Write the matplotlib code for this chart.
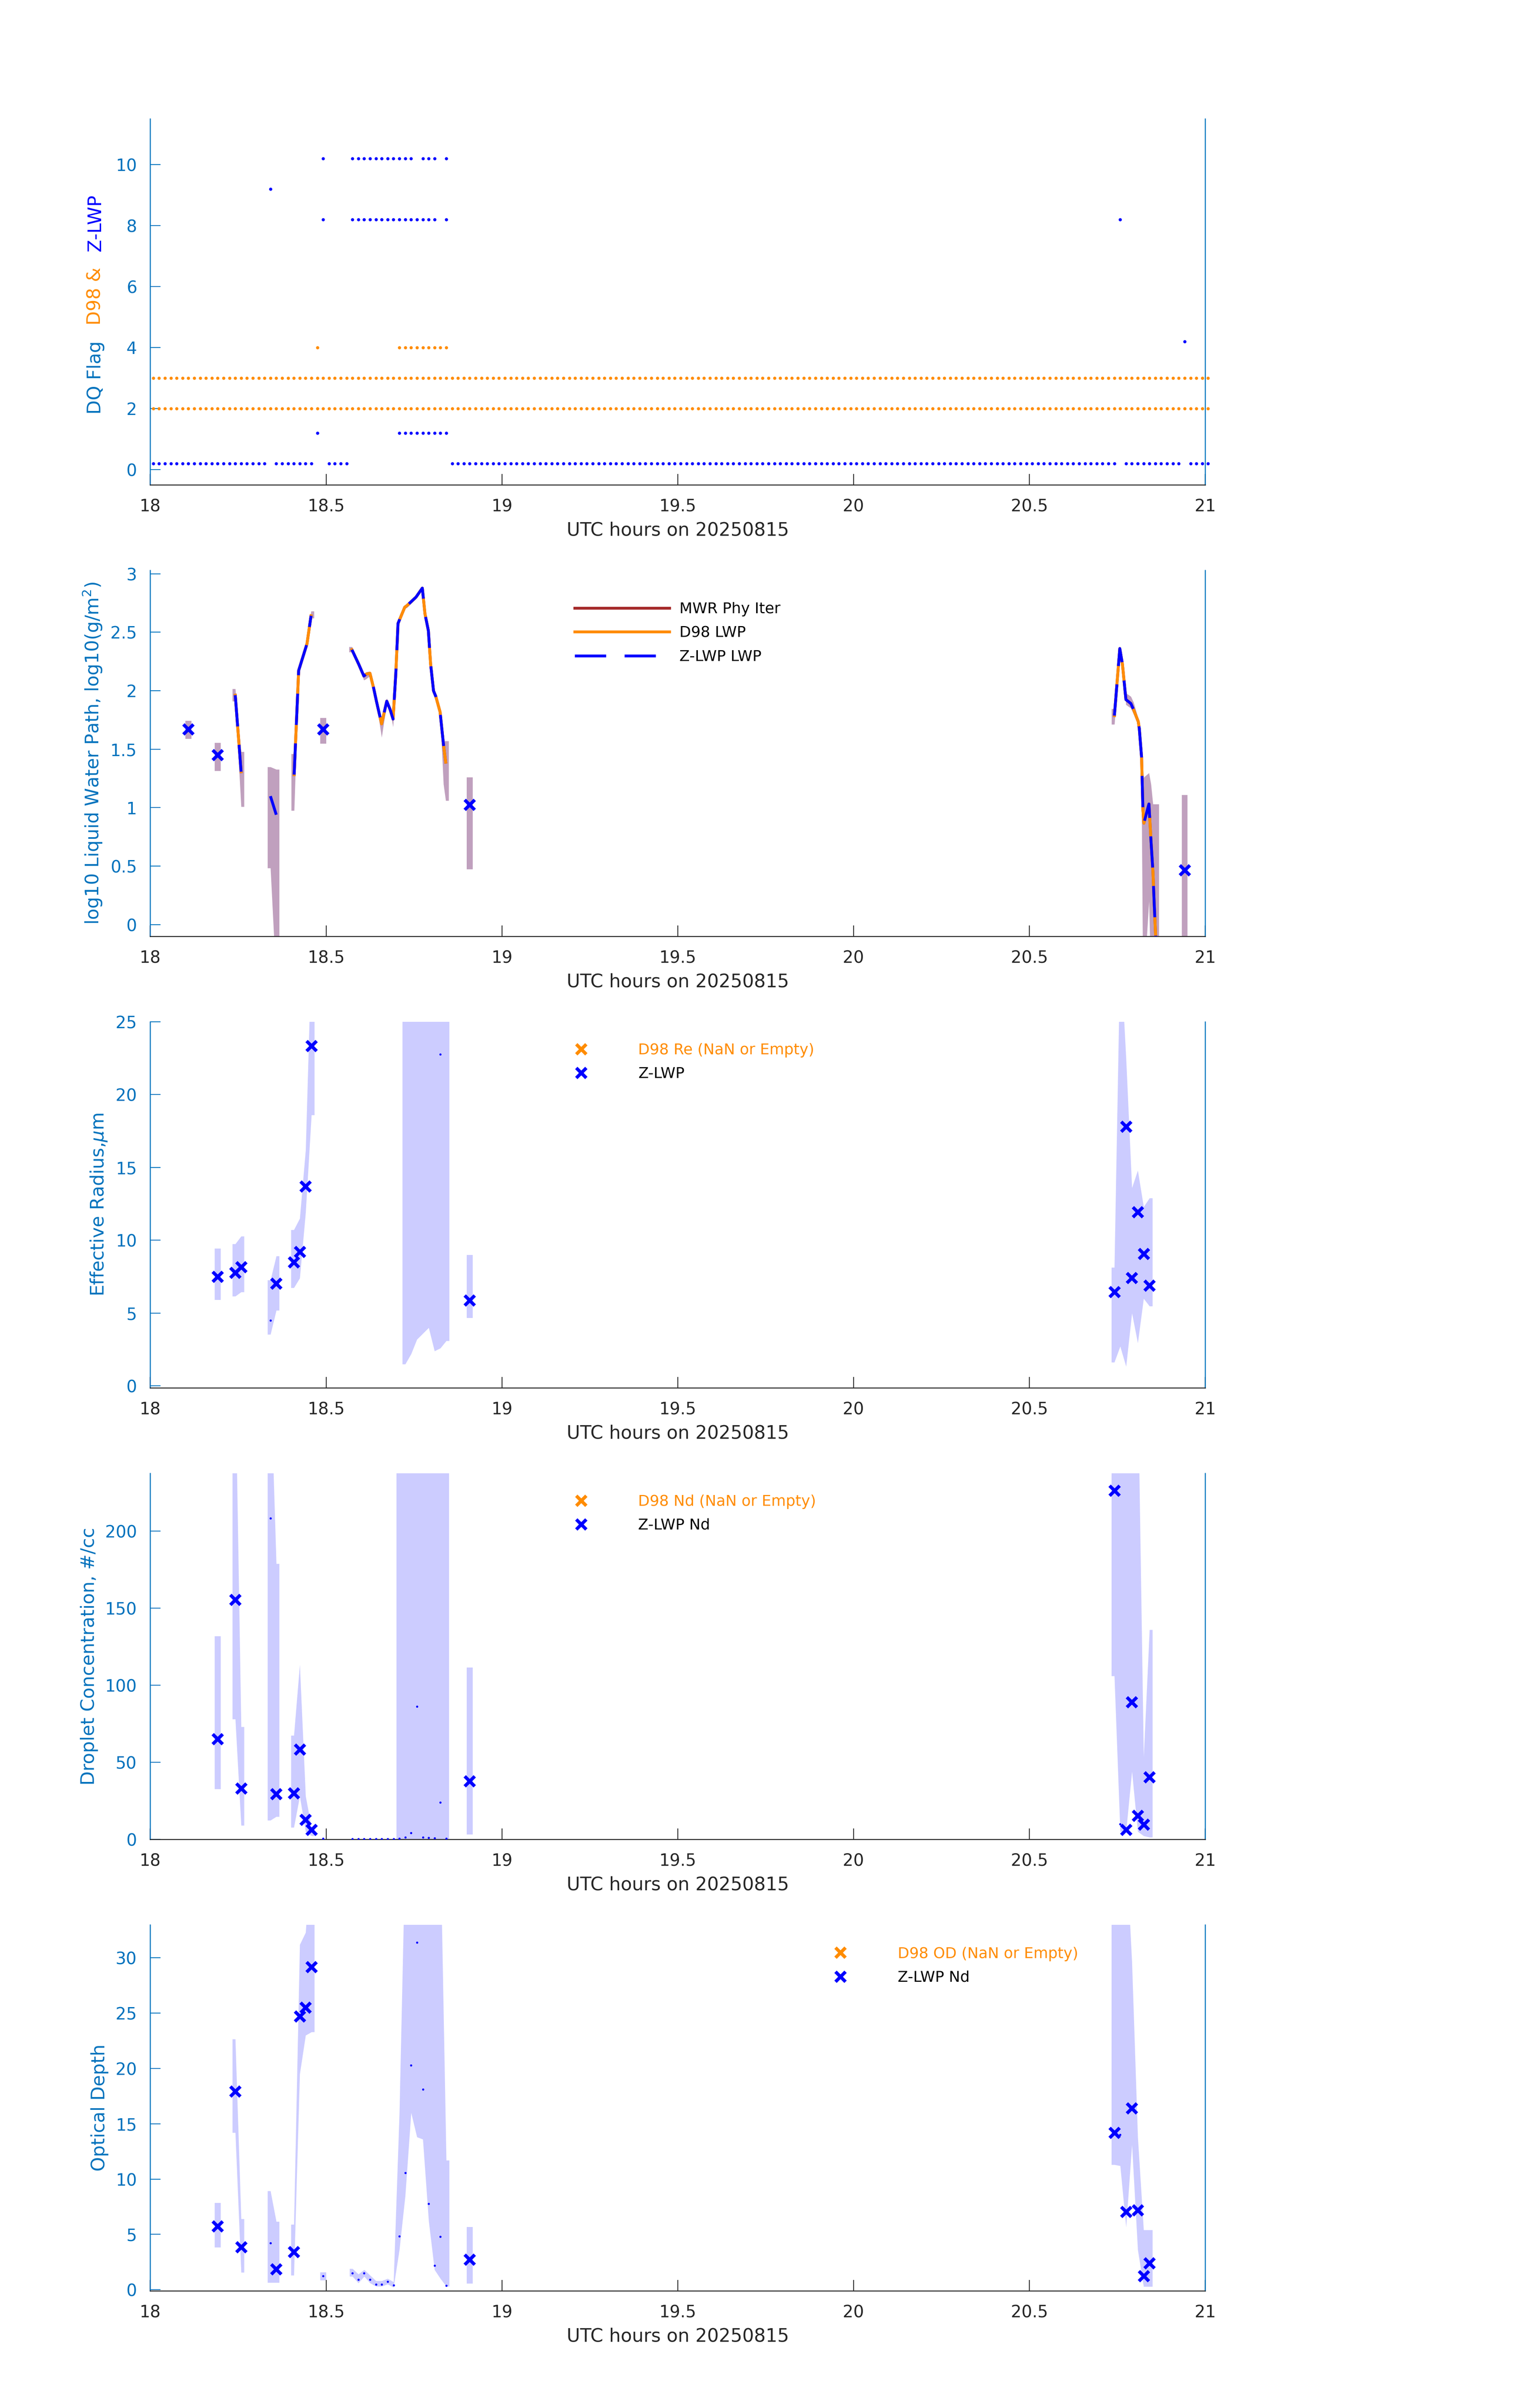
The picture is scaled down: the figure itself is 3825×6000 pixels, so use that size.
import numpy as np
import matplotlib
matplotlib.use('Agg')
import matplotlib.pyplot as plt
from matplotlib.ticker import FormatStrFormatter

nan = np.nan

AXBLUE = '#0072BD'
DARK = '#262626'
ORANGE = '#FF8C00'
BROWN = '#A52A2A'
LWP_BAND = '#C0A0BE'

# ---------------- panel 1 : DQ flags, one sample per minute after 18 UTC
zlwp_flag0 = (list(range(0, 20)) + list(range(21, 28)) + list(range(30, 34))
              + list(range(51, 165)) + list(range(166, 176)) + list(range(177, 181)))
zlwp_flag1 = [28] + list(range(42, 51))
zlwp_flag4 = [176]
zlwp_flag8 = [29] + list(range(34, 49)) + [50, 165]
zlwp_flag9 = [20]
zlwp_flag10 = [29] + list(range(34, 45)) + [46, 47, 48, 50]
d98_flag2 = list(range(0, 181))
d98_flag3 = list(range(0, 181))
d98_flag4 = [28] + list(range(42, 51))

# ---------------- panel 2 : log10 LWP
lwp_t = [18.2417, 18.2583, nan,
         18.4092, 18.4220, 18.4393, 18.4457, 18.4572, nan,
         18.5735, 18.5927, 18.6074, 18.6138, 18.6247, 18.6355, 18.6439, 18.6579,
         18.6726, 18.6822, 18.6905, 18.6982, 18.7046, 18.7238, 18.7302, 18.7558,
         18.7737, 18.7813, 18.7909, 18.7973, 18.8056, 18.8120, 18.8242, 18.8338,
         18.8402, nan,
         20.7420, 20.7573, 20.7648, 20.7747, 20.7888, 20.7964, 20.8098, 20.8128,
         20.8193, 20.8231, 20.8258, 20.8402, 20.8459, 20.8516, 20.8554, 20.8600]
lwp_mwr = [1.961, 1.307, nan,
           1.282, 2.172, 2.339, 2.401, 2.640, nan,
           2.350, 2.227, 2.125, 2.141, 2.149, 2.018, 1.900, 1.716,
           1.910, 1.838, 1.757, 2.141, 2.575, 2.714, 2.728, 2.800,
           2.877, 2.656, 2.513, 2.227, 1.998, 1.951, 1.818, 1.542,
           1.389, nan,
           1.787, 2.360, 2.227, 1.924, 1.890, 1.838, 1.736, 1.675,
           1.430, 0.980, 0.867, 1.031, 0.724, 0.448, 0.162, -0.145]
lwp_d98 = list(lwp_mwr)  # D98 sits on top of the MWR curve
lwp_zlwp_t = lwp_t + [nan, 18.3417, 18.3583]
lwp_zlwp = lwp_mwr + [nan, 1.098, 0.939]
zlwp_pt_t = [18.1083, 18.1917, 18.4917, 18.9083, 20.9417]
zlwp_pt_v = [1.669, 1.450, 1.669, 1.025, 0.464]

lwp_band_t = [18.1083, nan, 18.1917, nan, 18.2417, 18.2583, nan, 18.3417, 18.3583, nan,
              18.4092, 18.4220, 18.4393, 18.4457, 18.4572, nan, 18.4917, nan,
              18.5735, 18.5927, 18.6074, 18.6138, 18.6247, 18.6355, 18.6439, 18.6579,
              18.6726, 18.6822, 18.6905, 18.6982, 18.7046, 18.7238, 18.7302, 18.7558,
              18.7737, 18.7813, 18.7909, 18.7973, 18.8056, 18.8120, 18.8242, 18.8338,
              18.8402, nan, 18.9083, nan,
              20.7420, 20.7573, 20.7648, 20.7747, 20.7888, 20.7964, 20.8098, 20.8128,
              20.8193, 20.8231, 20.8258, 20.8402, 20.8459, 20.8516, 20.8554, 20.8600,
              nan, 20.9417]
lwp_band_hi = [1.744, nan, 1.552, nan, 2.016, 1.478, nan, 1.348, 1.327, nan,
               1.460, 2.190, 2.355, 2.420, 2.680, nan, 1.765, nan,
               2.375, 2.245, 2.140, 2.160, 2.165, 2.035, 1.915, 1.735,
               1.935, 1.855, 1.775, 2.155, 2.590, 2.730, 2.745, 2.815,
               2.895, 2.670, 2.530, 2.245, 2.015, 1.965, 1.835, 1.570,
               1.570, nan, 1.260, nan,
               1.845, 2.380, 2.250, 1.980, 1.950, 1.900, 1.760, 1.700,
               1.460, 1.245, 1.260, 1.297, 1.200, 1.030, 1.030, 1.030,
               nan, 1.108]
lwp_band_lo = [1.589, nan, 1.315, nan, 1.910, 1.008, nan, 0.483, -0.500, nan,
               0.975, 2.155, 2.320, 2.385, 2.620, nan, 1.548, nan,
               2.330, 2.205, 2.090, 2.100, 2.125, 2.000, 1.880, 1.600,
               1.890, 1.815, 1.690, 2.125, 2.560, 2.700, 2.710, 2.785,
               2.860, 2.640, 2.495, 2.210, 1.980, 1.935, 1.800, 1.200,
               1.060, nan, 0.474, nan,
               1.712, 2.340, 2.200, 1.880, 1.850, 1.800, 1.700, 1.640,
               1.000, -0.500, -0.500, 0.200, -0.500, -0.500, -0.500, -0.500,
               nan, -0.300]

# ---------------- panels 3-5 : Z-LWP retrievals (D98 ones are empty)
ret_t = [18.1917, 18.2417, 18.2583, 18.3583, 18.4083, 18.4250, 18.4417, 18.4583,
         18.9083, 20.7417, 20.7750, 20.7917, 20.8083, 20.8250, 20.8417]
d98_t = []
d98_v = []

re_v = [7.50, 7.77, 8.16, 7.03, 8.49, 9.21, 13.70, 23.35, 5.87, 6.45, 17.80, 7.42, 11.93, 9.07, 6.90]
re_dot_t = [18.3417, 18.8250]
re_dot_v = [4.5, 22.75]
re_band_t = [18.1917, nan, 18.2417, 18.2583, nan, 18.3417, 18.3583, nan,
             18.4083, 18.4250, 18.4417, 18.4583, nan,
             18.7250, 18.7417, 18.7583, 18.7750, 18.7917, 18.8083, 18.8250, 18.8417, nan,
             18.9083, nan,
             20.7417, 20.7583, 20.7750, 20.7917, 20.8083, 20.8250, 20.8417]
re_band_hi = [9.44, nan, 9.75, 10.28, nan, 7.27, 8.92, nan,
              10.72, 11.50, 16.20, 30.0, nan,
              30.0, 30.0, 30.0, 30.0, 30.0, 30.0, 30.0, 30.0, nan,
              9.00, nan,
              8.14, 30.0, 22.5, 13.6, 14.8, 12.3, 12.9]
re_band_lo = [5.90, nan, 6.16, 6.45, nan, 3.54, 5.19, nan,
              6.74, 7.40, 11.90, 18.60, nan,
              1.5, 2.2, 3.2, 3.6, 4.0, 2.4, 2.6, 3.1, nan,
              4.66, nan,
              1.63, 2.72, 1.34, 5.00, 2.95, 6.00, 5.48]

nd_v = [65.0, 155.6, 33.1, 29.4, 29.8, 58.2, 12.7, 6.2, 37.6, 226.3, 6.2, 89.0, 15.4, 9.5, 40.2]
nd_dot_t = [18.3417, 18.4917, 18.5750, 18.5917, 18.6083, 18.6250, 18.6417, 18.6583,
            18.6750, 18.6917, 18.7083, 18.7250, 18.7417, 18.7583, 18.7750, 18.7917,
            18.8083, 18.8250, 18.8417, 20.7583]
nd_dot_v = [208.3, 0.4, 0.3, 0.3, 0.3, 0.3, 0.3, 0.3,
            0.3, 0.3, 0.5, 1.3, 4.0, 86.3, 1.3, 0.9,
            0.7, 24.0, 0.4, 9.9]
nd_band_t = [18.1917, nan, 18.2417, 18.2583, nan, 18.3417, 18.3583, nan,
             18.4083, 18.4250, 18.4417, 18.4583, nan,
             18.7083, 18.7250, 18.7417, 18.7583, 18.7750, 18.7917, 18.8083, 18.8250, 18.8417, nan,
             18.9083, nan,
             20.7417, 20.7583, 20.7750, 20.7917, 20.8083, 20.8250, 20.8417]
nd_band_hi = [131.7, nan, 300.0, 73.0, nan, 300.0, 178.9, nan,
              67.4, 113.3, 28.0, 7.7, nan,
              300.0, 300.0, 300.0, 300.0, 300.0, 300.0, 300.0, 300.0, 300.0, nan,
              111.5, nan,
              300.0, 300.0, 300.0, 300.0, 300.0, 53.6, 136.0]
nd_band_lo = [32.5, nan, 78.0, 9.0, nan, 12.3, 14.7, nan,
              7.7, 27.9, 5.0, 2.2, nan,
              0.0, 0.0, 0.0, 0.0, 0.0, 0.0, 0.0, 0.0, 0.0, nan,
              3.1, nan,
              106.0, 5.0, 5.0, 44.0, 5.0, 2.2, 1.3]

od_v = [5.73, 17.93, 3.86, 1.87, 3.40, 24.70, 25.50, 29.20, 2.71, 14.20, 7.06, 16.40, 7.19, 1.23, 2.38]
od_dot_t = [18.3417, 18.4917, 18.5750, 18.5917, 18.6083, 18.6250, 18.6417, 18.6583,
            18.6750, 18.6917, 18.7083, 18.7250, 18.7417, 18.7583, 18.7750, 18.7917,
            18.8083, 18.8250, 18.8417, 20.7583]
od_dot_v = [4.22, 1.23, 1.50, 0.92, 1.48, 0.92, 0.46, 0.46,
            0.74, 0.41, 4.83, 10.56, 20.30, 31.40, 18.13, 7.77,
            2.17, 4.81, 0.38, 14.00]
od_band_t = [18.1917, nan, 18.2417, 18.2583, nan, 18.3417, 18.3583, nan,
             18.4083, 18.4250, 18.4417, 18.4583, nan, 18.4917, nan,
             18.5750, 18.5917, 18.6083, 18.6250, 18.6417, 18.6583, 18.6750, 18.6917,
             18.7083, 18.7250, 18.7417, 18.7583, 18.7750, 18.7917, 18.8083, 18.8250, 18.8417, nan,
             18.9083, nan,
             20.7417, 20.7583, 20.7750, 20.7917, 20.8083, 20.8250, 20.8417]
od_band_hi = [7.83, nan, 22.66, 6.40, nan, 8.93, 6.16, nan,
              5.90, 31.20, 32.30, 40.0, nan, 1.56, nan,
              1.90, 1.40, 1.80, 1.30, 0.80, 0.80, 1.00, 0.70,
              16.0, 40.0, 40.0, 40.0, 40.0, 40.0, 40.0, 40.0, 11.7, nan,
              5.65, nan,
              40.0, 40.0, 40.0, 29.6, 13.8, 5.4, 5.4]
od_band_lo = [3.81, nan, 14.20, 1.56, nan, 0.64, 0.64, nan,
              1.30, 19.50, 23.00, 23.30, nan, 0.84, nan,
              1.20, 0.60, 1.20, 0.60, 0.30, 0.30, 0.50, 0.20,
              3.6, 8.5, 16.0, 13.8, 13.6, 6.2, 1.8, 1.0, 0.3, nan,
              0.54, nan,
              11.3, 11.2, 5.65, 13.1, 3.6, 0.28, 0.28]


def minute_time(idx):
    return 18.0 + (np.asarray(idx) + 0.5) / 60.0


def fill_band(ax, t, lo, hi, **kw):
    # each contiguous run is widened by half a sample on both ends
    t = np.asarray(t, float)
    lo = np.asarray(lo, float)
    hi = np.asarray(hi, float)
    half = 0.5 / 60.0
    for chunk in np.split(np.arange(len(t)), np.where(np.isnan(t))[0]):
        chunk = chunk[~np.isnan(t[chunk])]
        if len(chunk) == 0:
            continue
        tt = np.concatenate([[t[chunk[0]] - half], t[chunk], [t[chunk[-1]] + half]])
        ll = np.concatenate([[lo[chunk[0]]], lo[chunk], [lo[chunk[-1]]]])
        hh = np.concatenate([[hi[chunk[0]]], hi[chunk], [hi[chunk[-1]]]])
        ax.fill_between(tt, ll, hh, linewidth=0, **kw)


def style_axes(ax, ylim, yticks, ylabel=None):
    ax.set_xlim(18, 21)
    ax.set_ylim(*ylim)
    ax.set_xticks([18, 18.5, 19, 19.5, 20, 20.5, 21])
    ax.set_yticks(yticks)
    ax.xaxis.set_major_formatter(FormatStrFormatter('%g'))
    ax.yaxis.set_major_formatter(FormatStrFormatter('%g'))
    ax.spines['top'].set_visible(False)
    for s in ['left', 'right']:
        ax.spines[s].set_color(AXBLUE)
        ax.spines[s].set_linewidth(0.6)
    ax.spines['bottom'].set_color(DARK)
    ax.spines['bottom'].set_linewidth(0.6)
    ax.tick_params(axis='x', direction='in', length=6.5, width=0.5, colors=DARK,
                   labelsize=10, pad=8, top=False)
    ax.tick_params(axis='y', direction='in', length=6.3, width=0.5, colors=AXBLUE,
                   labelsize=10, pad=8, right=False)
    ax.set_xlabel('UTC hours on 20250815', fontsize=11, color=DARK)
    if ylabel:
        ax.set_ylabel(ylabel, fontsize=11, color=AXBLUE)


fig = plt.figure(figsize=(12.75, 20), dpi=300)
left, width, height = 0.0979, 0.6872, 0.152
bottoms = [0.7987, 0.6112, 0.4237, 0.2362, 0.0487]
ax1, ax2, ax3, ax4, ax5 = [fig.add_axes([left, b, width, height]) for b in bottoms]

# ---- panel 1
dot = dict(marker='o', ms=1.9, mew=0, ls='none', clip_on=False)
for f, idx in [(2, d98_flag2), (3, d98_flag3), (4, d98_flag4)]:
    ax1.plot(minute_time(idx), np.full(len(idx), f), color=ORANGE, **dot)
for f, idx in [(0, zlwp_flag0), (1, zlwp_flag1), (4, zlwp_flag4), (8, zlwp_flag8),
               (9, zlwp_flag9), (10, zlwp_flag10)]:
    ax1.plot(minute_time(idx), np.full(len(idx), f + 0.2), color='blue', **dot)
style_axes(ax1, (-0.5, 11.5), [0, 2, 4, 6, 8, 10])

# ---- panel 2
fill_band(ax2, lwp_band_t, lwp_band_lo, lwp_band_hi, color=LWP_BAND, zorder=1)
ax2.plot(lwp_t, lwp_mwr, color=BROWN, lw=1.7, label='MWR Phy Iter', zorder=2)
ax2.plot(lwp_t, lwp_d98, color=ORANGE, lw=1.7, label='D98 LWP', zorder=3)
ax2.plot(lwp_zlwp_t, lwp_zlwp, color='blue', lw=1.7, dashes=(11, 6.5),
         label='Z-LWP LWP', zorder=4)
ax2.plot(zlwp_pt_t, zlwp_pt_v, 'x', color='blue', ms=6, mew=2.0, zorder=5)
style_axes(ax2, (-0.1, 3.03), [0, 0.5, 1, 1.5, 2, 2.5, 3],
           'log10 Liquid Water Path, log10(g/m$^2$)')
ax2.legend(loc='upper left', bbox_to_anchor=(0.4023, 0.913), frameon=False, fontsize=9,
           handlelength=6.3, handletextpad=0.65, labelspacing=0.62, borderpad=0,
           borderaxespad=0)

# ---- panels 3-5
xm = dict(ls='none', marker='x', ms=6, mew=2.0)
sm = dict(ls='none', marker='o', ms=1.3, mew=0)
panels = [
    (ax3, re_v, re_dot_t, re_dot_v, re_band_t, re_band_lo, re_band_hi,
     'D98 Re (NaN or Empty)', 'Z-LWP', (-0.12, 25), [0, 5, 10, 15, 20, 25],
     'Effective Radius,$\\mu$m', (0.394, 0.942)),
    (ax4, nd_v, nd_dot_t, nd_dot_v, nd_band_t, nd_band_lo, nd_band_hi,
     'D98 Nd (NaN or Empty)', 'Z-LWP Nd', (0, 237.6), [0, 50, 100, 150, 200],
     'Droplet Concentration, #/cc', (0.394, 0.942)),
    (ax5, od_v, od_dot_t, od_dot_v, od_band_t, od_band_lo, od_band_hi,
     'D98 OD (NaN or Empty)', 'Z-LWP Nd', (-0.1, 33.0), [0, 5, 10, 15, 20, 25, 30],
     'Optical Depth', (0.640, 0.940)),
]
for ax, v, dt, dv, bt, blo, bhi, lab_d98, lab_z, ylim, yt, ylab, anchor in panels:
    fill_band(ax, bt, blo, bhi, color='blue', alpha=0.2, zorder=1)
    ax.plot(d98_t, d98_v, color=ORANGE, label=lab_d98, zorder=3, **xm)
    ax.plot(ret_t, v, color='blue', label=lab_z, zorder=4, **xm)
    ax.plot(dt, dv, color='blue', zorder=4, **sm)
    style_axes(ax, ylim, yt, ylab)
    leg = ax.legend(loc='upper left', bbox_to_anchor=anchor, frameon=False, fontsize=9,
                    handlelength=2.0, handletextpad=2.8, labelspacing=0.62, borderpad=0,
                    borderaxespad=0, numpoints=1)
    leg.get_texts()[0].set_color(ORANGE)

# ---- multi-coloured y label of panel 1
fig.canvas.draw()
renderer = fig.canvas.get_renderer()
ax_h = ax1.get_window_extent(renderer).height
parts = [('DQ Flag', AXBLUE), ('D98 &', ORANGE), ('Z-LWP', 'blue')]
objs = [ax1.text(-0.047, 0, s, color=c, fontsize=11, rotation=90, rotation_mode='anchor',
                 ha='left', va='baseline', transform=ax1.transAxes) for s, c in parts]
lens = [o.get_window_extent(renderer).height for o in objs]
gap = 40
y = 0.493 - (sum(lens) + gap * (len(objs) - 1)) / 2 / ax_h
for o, L in zip(objs, lens):
    o.set_y(y)
    y += (L + gap) / ax_h

fig.savefig('out.png', dpi=300)
